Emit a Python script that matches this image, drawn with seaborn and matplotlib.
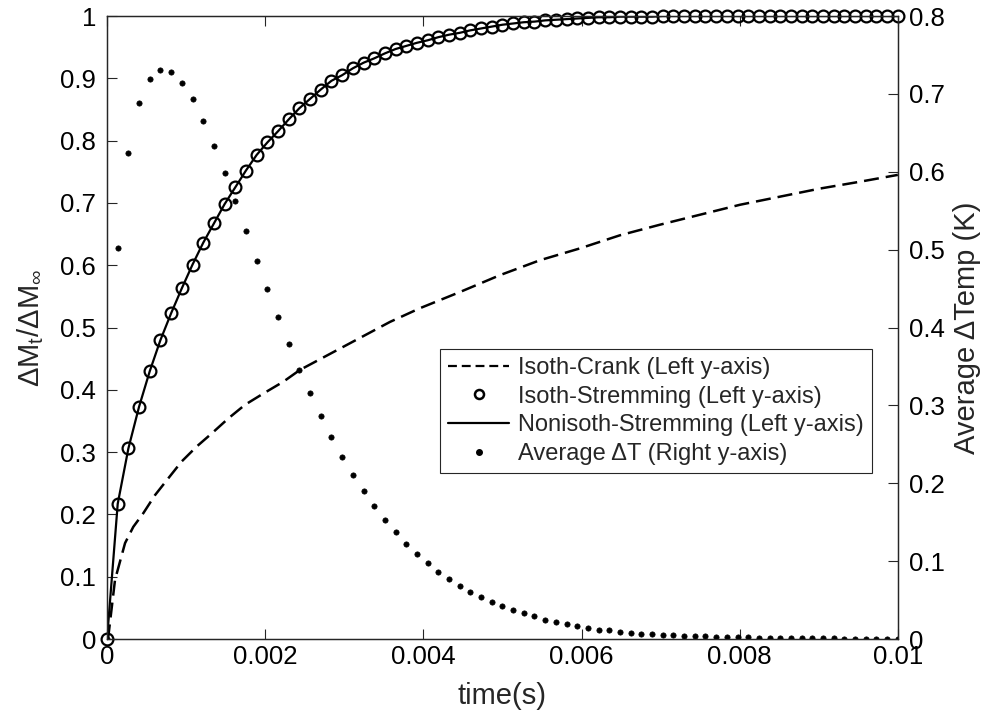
import numpy as np
import pandas as pd
import matplotlib
matplotlib.use("Agg")
import matplotlib.pyplot as plt
import seaborn as sns
from matplotlib.lines import Line2D

# ---------------- data ----------------
n_pts = 75
t_max = 0.01
time_s = [t_max * i / (n_pts - 1) for i in range(n_pts)]

isoth_stremming = [
    0.0, 0.217, 0.306, 0.373, 0.430, 0.480, 0.523, 0.563, 0.601, 0.636,
    0.667, 0.698, 0.725, 0.752, 0.777, 0.797, 0.815, 0.834, 0.852, 0.867,
    0.882, 0.896, 0.905, 0.916, 0.925, 0.932, 0.940, 0.947, 0.952, 0.957,
    0.961, 0.966, 0.970, 0.973, 0.977, 0.980, 0.983, 0.986, 0.988, 0.990,
    0.991, 0.993, 0.994, 0.995, 0.996, 0.997, 0.998, 0.998, 0.999, 0.999,
    0.999, 0.999, 1.0, 1.0, 1.0, 1.0, 1.0, 1.0, 1.0, 1.0,
    1.0, 1.0, 1.0, 1.0, 1.0, 1.0, 1.0, 1.0, 1.0, 1.0,
    1.0, 1.0, 1.0, 1.0, 1.0,
]
nonisoth_stremming = [
    0.0, 0.217, 0.306, 0.373, 0.430, 0.480, 0.523, 0.563, 0.601, 0.636,
    0.667, 0.698, 0.725, 0.752, 0.777, 0.797, 0.815, 0.834, 0.852, 0.867,
    0.882, 0.896, 0.905, 0.916, 0.925, 0.932, 0.940, 0.947, 0.952, 0.957,
    0.961, 0.966, 0.970, 0.973, 0.977, 0.980, 0.983, 0.986, 0.988, 0.990,
    0.991, 0.993, 0.994, 0.995, 0.996, 0.997, 0.998, 0.998, 0.999, 0.999,
    0.999, 0.999, 1.0, 1.0, 1.0, 1.0, 1.0, 1.0, 1.0, 1.0,
    1.0, 1.0, 1.0, 1.0, 1.0, 1.0, 1.0, 1.0, 1.0, 1.0,
    1.0, 1.0, 1.0, 1.0, 1.0,
]
avg_dT = [
    0.0, 0.502, 0.624, 0.688, 0.719, 0.731, 0.728, 0.714, 0.693, 0.665,
    0.633, 0.598, 0.562, 0.524, 0.486, 0.449, 0.413, 0.379, 0.345, 0.316,
    0.286, 0.259, 0.234, 0.211, 0.190, 0.171, 0.153, 0.138, 0.122, 0.109,
    0.097, 0.086, 0.077, 0.068, 0.060, 0.054, 0.048, 0.042, 0.037, 0.033,
    0.029, 0.025, 0.022, 0.019, 0.017, 0.014, 0.012, 0.011, 0.009, 0.008,
    0.007, 0.006, 0.0055, 0.005, 0.0045, 0.004, 0.0035, 0.003, 0.0027, 0.0024,
    0.002, 0.0018, 0.0016, 0.0014, 0.0012, 0.001, 0.0009, 0.0008, 0.0007, 0.0006,
    0.0005, 0.0005, 0.0004, 0.0004, 0.0003,
]

crank_t = [0.0, 0.0000164, 0.000101, 0.000228, 0.000332, 0.000459, 0.000607,
           0.000775, 0.000944, 0.001134, 0.001324, 0.001533, 0.001745,
           0.001976, 0.002229, 0.00244, 0.003578, 0.003957, 0.004463,
           0.004968, 0.005474, 0.00598, 0.006485, 0.006991, 0.007497,
           0.008003, 0.008508, 0.009014, 0.00952, 0.01]
crank_val = [0.0, 0.004, 0.095, 0.154, 0.180, 0.202, 0.231, 0.258, 0.285,
             0.309, 0.330, 0.354, 0.376, 0.394, 0.413, 0.432, 0.509, 0.531,
             0.557, 0.584, 0.608, 0.627, 0.648, 0.665, 0.681, 0.697, 0.710,
             0.723, 0.734, 0.745]

x_ticks = [0, 0.002, 0.004, 0.006, 0.008, 0.01]
x_ticklabels = ["0", "0.002", "0.004", "0.006", "0.008", "0.01"]
yl_ticks = [0, 0.1, 0.2, 0.3, 0.4, 0.5, 0.6, 0.7, 0.8, 0.9, 1.0]
yl_ticklabels = ["0", "0.1", "0.2", "0.3", "0.4", "0.5", "0.6", "0.7", "0.8", "0.9", "1"]
yr_ticks = [0, 0.1, 0.2, 0.3, 0.4, 0.5, 0.6, 0.7, 0.8]
yr_ticklabels = ["0", "0.1", "0.2", "0.3", "0.4", "0.5", "0.6", "0.7", "0.8"]

labels = ["Isoth-Crank (Left y-axis)", "Isoth-Stremming (Left y-axis)",
          "Nonisoth-Stremming (Left y-axis)", "Average ΔT (Right y-axis)"]

# ---------------- style ----------------
sns.set_theme(style="white")
plt.rcParams["font.family"] = ["Liberation Sans", "DejaVu Sans"]
plt.rcParams["mathtext.fontset"] = "custom"
plt.rcParams["mathtext.rm"] = "Liberation Sans"
plt.rcParams["mathtext.it"] = "Liberation Sans"
axc = "#262626"

fig = plt.figure(figsize=(9.91, 7.21), dpi=100)
ax = fig.add_axes([0.108, 0.1137, 0.798, 0.8641])
ax2 = ax.twinx()

df_s = pd.DataFrame({"t": time_s, "iso": isoth_stremming,
                     "noniso": nonisoth_stremming, "dT": avg_dT})
df_c = pd.DataFrame({"t": crank_t, "v": crank_val})

sns.lineplot(data=df_c, x="t", y="v", ax=ax, color="black", lw=1.8,
             linestyle=(0, (6, 2.8)), sort=False, label=labels[0], legend=False)
sns.lineplot(data=df_s, x="t", y="noniso", ax=ax, color="black", lw=1.6,
             sort=False, label=labels[2], legend=False)
sns.lineplot(data=df_s, x="t", y="iso", ax=ax, color="black", linestyle="none",
             marker="o", markersize=8.5, markerfacecolor="none",
             markeredgecolor="black", markeredgewidth=1.6, sort=False,
             label=labels[1], legend=False, clip_on=False)
sns.lineplot(data=df_s, x="t", y="dT", ax=ax2, color="black", linestyle="none",
             marker="o", markersize=3.8, markerfacecolor="black",
             markeredgecolor="black", markeredgewidth=0.5, sort=False,
             label=labels[3], legend=False)

ax.set_xlim(0, 0.01)
ax.set_ylim(0, 1)
ax2.set_ylim(0, 0.8)
ax.set_xticks(x_ticks, x_ticklabels)
ax.set_yticks(yl_ticks, yl_ticklabels)
ax2.set_yticks(yr_ticks, yr_ticklabels)

fs_tick = 18.5
ax.tick_params(axis="x", direction="in", top=True, bottom=True, length=7,
               width=0.8, colors=axc, labelsize=fs_tick, labelcolor="black", pad=4)
ax.tick_params(axis="y", direction="in", left=True, right=False, length=7,
               width=0.8, colors=axc, labelsize=fs_tick, labelcolor="black", pad=8)
ax2.tick_params(axis="y", direction="in", right=True, left=False, length=7,
                width=0.8, colors=axc, labelsize=fs_tick, labelcolor="black", pad=8)
for a in (ax, ax2):
    for s in a.spines.values():
        s.set_color(axc)
        s.set_linewidth(0.9)

ax.set_xlabel("time(s)", fontsize=21, labelpad=10)
ax.set_ylabel(r"ΔM$_\mathrm{t}$/ΔM$_\infty$", fontsize=21, labelpad=10)
ax2.set_ylabel("Average ΔTemp (K)", fontsize=21, labelpad=6)

handles = [
    Line2D([], [], color="black", lw=1.6, linestyle=(0, (4, 2.2))),
    Line2D([], [], color="black", linestyle="none", marker="o", markersize=6.5,
           markerfacecolor="none", markeredgewidth=1.8),
    Line2D([], [], color="black", lw=1.6),
    Line2D([], [], color="black", linestyle="none", marker="o", markersize=4),
]
leg = ax2.legend(handles, labels, loc="upper right", bbox_to_anchor=(0.967, 0.466),
                 borderaxespad=0, fontsize=17, frameon=True, fancybox=False,
                 framealpha=1, edgecolor=axc, handlelength=2.6, handletextpad=0.35,
                 borderpad=0.35, labelspacing=0.28)
leg.get_frame().set_linewidth(0.8)

fig.savefig("out.png", dpi=100)
